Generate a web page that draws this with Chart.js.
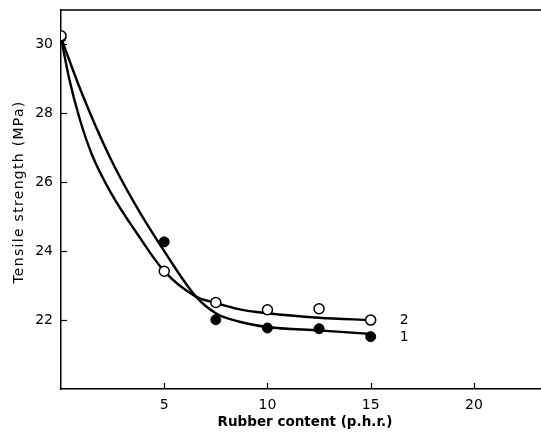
<!DOCTYPE html>
<html>
<head>
<meta charset="utf-8">
<script src="https://cdn.jsdelivr.net/npm/chart.js@4.4.0/dist/chart.umd.min.js"></script>
<style>
  html, body { margin: 0; padding: 0; background: #fff; overflow: hidden; }
  canvas { display: block; }
</style>
</head>
<body>
<canvas id="TensileChart" width="541" height="437"></canvas>
<script>
// measured points
const RubberContent = [0, 5, 7.5, 10, 12.5, 15];
const Series1Values = [30.2, 24.27, 22.01, 21.77, 21.75, 21.52];
const Series2Values = [30.25, 23.42, 22.51, 22.3, 22.33, 22.0];

// fitted curves
const Curve1X = [0, 1.0, 2.35, 3.6, 5, 6.54, 7.5, 8.6, 10, 12.5, 15];
const Curve1Y = [30.2, 28.6, 26.75, 25.35, 24.0, 22.68, 22.2, 21.96, 21.8, 21.7, 21.6];
const Curve2X = [0, 0.4, 0.9, 1.5, 2.44, 3.7, 5, 6.54, 7.5, 8.6, 10, 12.5, 15];
const Curve2Y = [30.2, 29.0, 27.85, 26.8, 25.67, 24.5, 23.42, 22.68, 22.5, 22.32, 22.2, 22.07, 22.0];

const CurveLabels = ['1', '2'];
const YTicks = [22, 24, 26, 28, 30];
const XTicks = [5, 10, 15, 20];

const TickFont = '14px "DejaVu Sans"';
const XTitleFont = 'bold 13.5px "DejaVu Sans"';
const YTitleFont = '14px "DejaVu Sans"';

function toPoints(xs, ys)
{
    return xs.map((x, i) => ({ x: x, y: ys[i] }));
}

const framePlugin = {
    id: 'frame',
    afterDraw(chart) {
        const { ctx, chartArea: { left, top, right, bottom }, scales: { x, y } } = chart;
        ctx.save();
        ctx.strokeStyle = '#000';
        ctx.lineWidth = 1.5;
        // top border
        ctx.beginPath();
        ctx.moveTo(left, top);
        ctx.lineTo(right, top);
        ctx.stroke();
        // inward ticks
        ctx.lineWidth = 1.2;
        for (let v of YTicks) {
            const py = Math.round(y.getPixelForValue(v)) + 0.5;
            ctx.beginPath();
            ctx.moveTo(left, py);
            ctx.lineTo(left + 6, py);
            ctx.stroke();
        }
        for (let v of XTicks) {
            const px = Math.round(x.getPixelForValue(v)) + 0.5;
            ctx.beginPath();
            ctx.moveTo(px, bottom);
            ctx.lineTo(px, bottom - 6);
            ctx.stroke();
        }
        // axis titles
        ctx.fillStyle = '#000';
        ctx.textAlign = 'center';
        ctx.textBaseline = 'middle';
        ctx.font = XTitleFont;
        ctx.fillText('Rubber content (p.h.r.)', 305, 422);
        ctx.translate(19, 192);
        ctx.rotate(-Math.PI / 2);
        ctx.font = YTitleFont;
        ctx.letterSpacing = '1.3px';
        ctx.fillText('Tensile strength (MPa)', 0, 0);
        ctx.restore();

        // curve labels at the end of each curve
        ctx.save();
        ctx.font = TickFont;
        ctx.fillStyle = '#000';
        ctx.textAlign = 'left';
        ctx.textBaseline = 'middle';
        const endX = x.getPixelForValue(Curve1X[Curve1X.length - 1]) + 29;
        ctx.fillText(CurveLabels[0], endX, y.getPixelForValue(Curve1Y[Curve1Y.length - 1]) + 3);
        ctx.fillText(CurveLabels[1], endX, y.getPixelForValue(Curve2Y[Curve2Y.length - 1]));
        ctx.restore();
    }
};

Chart.register(framePlugin);

new Chart(document.getElementById('TensileChart'),
{
    type: 'scatter',
    data:
    {
        datasets: [
            {
                data: toPoints(Curve1X, Curve1Y),
                showLine: true,
                borderColor: '#000',
                borderWidth: 2.4,
                pointRadius: 0,
                cubicInterpolationMode: 'monotone',
                order: 3
            },
            {
                data: toPoints(Curve2X, Curve2Y),
                showLine: true,
                borderColor: '#000',
                borderWidth: 2.4,
                pointRadius: 0,
                cubicInterpolationMode: 'monotone',
                order: 3
            },
            {
                data: toPoints(RubberContent, Series1Values),
                pointRadius: 5,
                pointBackgroundColor: '#000',
                pointBorderColor: '#000',
                pointBorderWidth: 1,
                order: 2
            },
            {
                data: toPoints(RubberContent, Series2Values),
                pointRadius: 5,
                pointBackgroundColor: '#fff',
                pointBorderColor: '#000',
                pointBorderWidth: 1.5,
                order: 1
            }
        ]
    },
    options:
    {
        responsive: false,
        animation: false,
        events: [],
        layout: { autoPadding: false, padding: { top: 10, right: 0, left: 0, bottom: 0 } },
        plugins: { legend: { display: false }, tooltip: { enabled: false } },
        scales:
        {
            x:
            {
                type: 'linear',
                min: 0,
                max: 23.25,
                afterBuildTicks: (axis) => { axis.ticks = XTicks.map(v => ({ value: v })); },
                afterFit: (axis) => { axis.height = 48; axis.paddingLeft = 0; axis.paddingRight = 0; },
                grid: { drawOnChartArea: false, drawTicks: false },
                border: { color: '#000', width: 1.5 },
                ticks: { color: '#000', font: { family: 'DejaVu Sans', size: 14 }, padding: 8 }
            },
            y:
            {
                min: 20,
                max: 31,
                afterBuildTicks: (axis) => { axis.ticks = YTicks.map(v => ({ value: v })); },
                afterFit: (axis) => { axis.width = 61; axis.paddingTop = 0; axis.paddingBottom = 0; },
                grid: { drawOnChartArea: false, drawTicks: false },
                border: { color: '#000', width: 1.5 },
                ticks: { color: '#000', font: { family: 'DejaVu Sans', size: 14 }, padding: 8 }
            }
        }
    }
});
</script>
</body>
</html>
